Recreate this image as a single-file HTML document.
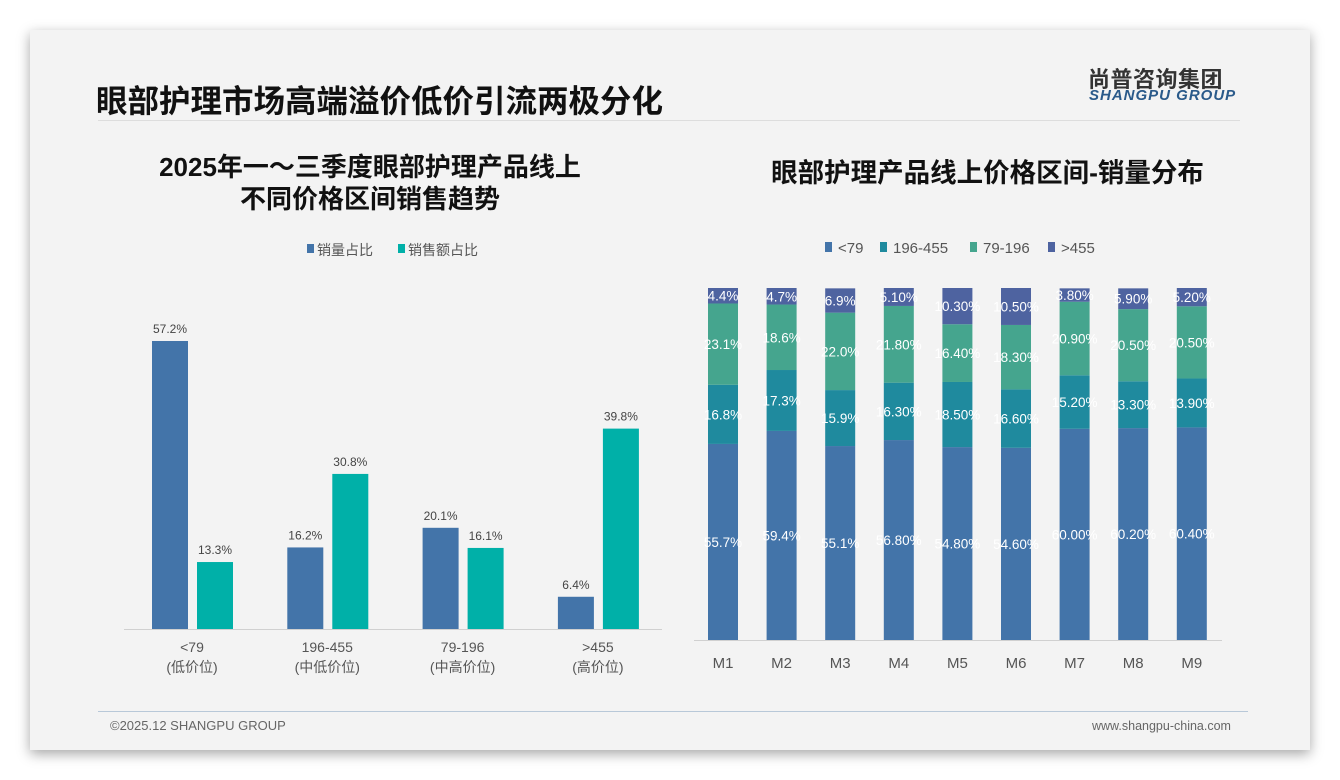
<!DOCTYPE html>
<html><head><meta charset="utf-8">
<style>
body{margin:0;width:1340px;height:780px;background:#fff;overflow:hidden;font-family:"Liberation Sans","Noto Sans CJK SC",sans-serif;}
#card{position:absolute;left:30px;top:30px;width:1280px;height:720px;background:#f3f3f3;box-shadow:0 4px 12px rgba(0,0,0,0.35);}
.t{position:absolute;white-space:nowrap;}
</style></head><body>
<div id="card"></div>
<div class="t" style="left:96px;top:76px;font-size:31.5px;font-weight:bold;color:#111;">眼部护理市场高端溢价低价引流两极分化</div>
<div class="t" style="left:1088px;top:62px;font-size:22px;font-weight:bold;color:#333;letter-spacing:0.5px;">尚普咨询集团</div>
<div class="t" style="left:1089px;top:87px;font-size:15px;font-weight:bold;font-style:italic;color:#2a5a8a;letter-spacing:1px;">SHANGPU GROUP</div>
<div style="position:absolute;left:98px;top:120px;width:1142px;height:1px;background:#ddd;"></div>
<div class="t" style="left:120px;top:151px;width:500px;text-align:center;font-size:26px;font-weight:bold;color:#111;line-height:32px;">2025年一～三季度眼部护理产品线上<br>不同价格区间销售趋势</div>
<div class="t" style="left:700px;top:151px;width:575px;text-align:center;font-size:26.5px;font-weight:bold;color:#111;">眼部护理产品线上价格区间-销量分布</div>
<div style="position:absolute;left:98px;top:711px;width:1150px;height:1px;background:#b8c8d8;"></div>
<div class="t" style="left:110px;top:718px;font-size:13px;color:#666;">©2025.12 SHANGPU GROUP</div>
<div class="t" style="left:1092px;top:719px;font-size:12.5px;color:#666;">www.shangpu-china.com</div>
<svg id="chart" width="1340" height="780" style="position:absolute;left:0;top:0"></svg>
<script>
const leftCats=["<79","196-455","79-196",">455"];
const leftSubs=["(低价位)","(中低价位)","(中高价位)","(高价位)"];
const leftVolume=[57.2,16.2,20.1,6.4];
const leftSales=[13.3,30.8,16.1,39.8];
const months=["M1","M2","M3","M4","M5","M6","M7","M8","M9"];
const s79=[55.7,59.4,55.1,56.8,54.8,54.6,60.0,60.2,60.4];
const s196_455=[16.8,17.3,15.9,16.3,18.5,16.6,15.2,13.3,13.9];
const s79_196=[23.1,18.6,22.0,21.8,16.4,18.3,20.9,20.5,20.5];
const s455=[4.4,4.7,6.9,5.1,10.3,10.5,3.8,5.9,5.2];
const labels79=["55.7%","59.4%","55.1%","56.80%","54.80%","54.60%","60.00%","60.20%","60.40%"];
const labels196_455=["16.8%","17.3%","15.9%","16.30%","18.50%","16.60%","15.20%","13.30%","13.90%"];
const labels79_196=["23.1%","18.6%","22.0%","21.80%","16.40%","18.30%","20.90%","20.50%","20.50%"];
const labels455=["4.4%","4.7%","6.9%","5.10%","10.30%","10.50%","3.80%","5.90%","5.20%"];
const svg=document.getElementById('chart');
const NS="http://www.w3.org/2000/svg";
function mk(tag,attrs,text){const e=document.createElementNS(NS,tag);for(const k in attrs)e.setAttribute(k,attrs[k]);if(text!==undefined)e.textContent=text;svg.appendChild(e);return e;}
const lBase=629, lScale=5.035;
const lx=i=>192+i*135.3;
const ly=v=>lBase-v*lScale;
let e;
e=mk('line',{x1:124,x2:662,y1:lBase+0.5,y2:lBase+0.5,stroke:'#d0d0d0'});


leftCats.forEach((c,i)=>{
  const cx=lx(i);
  e=mk('rect',{x:cx-40,y:ly(leftVolume[i]),width:36,height:leftVolume[i]*lScale,fill:'#4374a9'});
  
  
  e=mk('rect',{x:cx+5,y:ly(leftSales[i]),width:36,height:leftSales[i]*lScale,fill:'#00b0a8'});
  
  
  e=mk('text',{x:cx-22,y:ly(leftVolume[i])-8,'text-anchor':'middle','font-size':12,fill:'#444'},leftVolume[i].toFixed(1)+'%');
  
  
  e=mk('text',{x:cx+23,y:ly(leftSales[i])-8,'text-anchor':'middle','font-size':12,fill:'#444'},leftSales[i].toFixed(1)+'%');
  
  
  e=mk('text',{x:cx,y:652,'text-anchor':'middle','font-size':14,fill:'#555'},c);
  
  
  e=mk('text',{x:cx,y:672,'text-anchor':'middle','font-size':14,fill:'#555'},leftSubs[i]);
  
  
});
e=mk('rect',{x:307,y:244,width:7,height:9,fill:'#4374a9'});

e=mk('text',{x:317,y:255,'font-size':14,fill:'#555'},'销量占比');

e=mk('rect',{x:398,y:244,width:7,height:9,fill:'#00b0a8'});

e=mk('text',{x:408,y:255,'font-size':14,fill:'#555'},'销售额占比');

const rBase=640, rScale=3.52;
const rx=i=>723+i*58.6;
const series=[[s79,labels79,'#4374a9','lt79'],[s196_455,labels196_455,'#1f8a9e','196-455'],[s79_196,labels79_196,'#45a58e','79-196'],[s455,labels455,'#4e63a0','gt455']];
e=mk('line',{x1:694,x2:1222,y1:rBase+0.5,y2:rBase+0.5,stroke:'#d0d0d0'});

months.forEach((m,i)=>{
  let acc=0;
  series.forEach(([vals,labs,col,nm])=>{
    const v=vals[i];
    const y0=rBase-acc*rScale, h=v*rScale;
    e=mk('rect',{x:rx(i)-15,y:y0-h,width:30,height:h,fill:col});
    
    
    e=mk('text',{x:rx(i),y:y0-h/2+5,'text-anchor':'middle','font-size':13.5,fill:'#fff'},labs[i]);
    
    
    acc+=v;
  });
  e=mk('text',{x:rx(i),y:668,'text-anchor':'middle','font-size':15,fill:'#555'},m);
  
  
});
const legNames=['<79','196-455','79-196','>455'];
const legX=[825,880,970,1048];
series.forEach((s,k)=>{
  e=mk('rect',{x:legX[k],y:242,width:7,height:10,fill:s[2]});
  
  e=mk('text',{x:legX[k]+13,y:253,'font-size':15,fill:'#555'},legNames[k]);
  
});
</script>
</body></html>
